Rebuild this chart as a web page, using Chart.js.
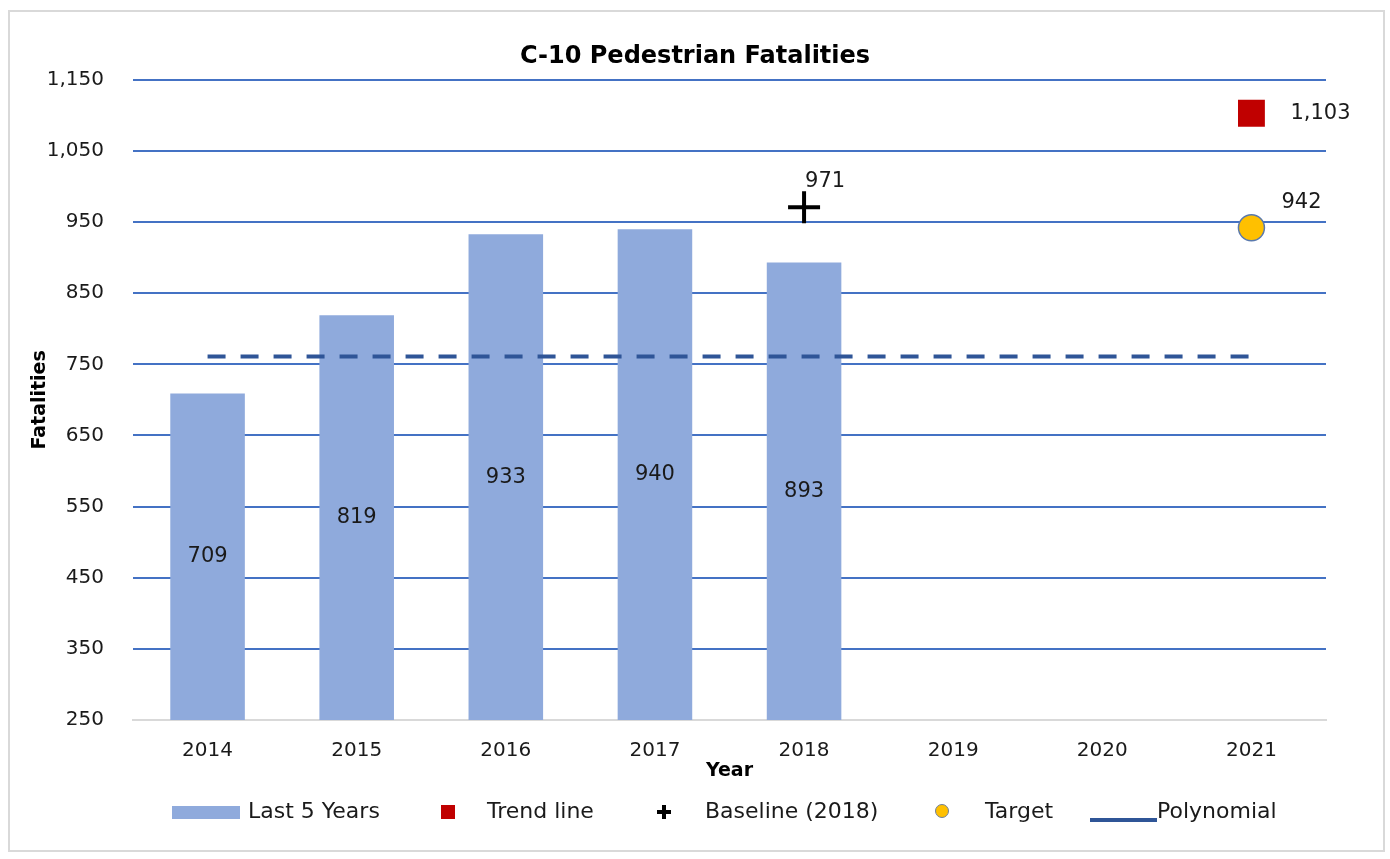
<!DOCTYPE html>
<html>
<head>
<meta charset="utf-8">
<script src="https://cdn.jsdelivr.net/npm/chart.js@4.4.1/dist/chart.umd.min.js"></script>
<style>
  html, body { margin: 0; padding: 0; background: #fff; }
  #wrap { position: relative; width: 1390px; height: 859px; font-family: "DejaVu Sans", sans-serif; }
  #frame { position: absolute; left: 8px; top: 10px; width: 1377px; height: 842px; border: 2px solid #d9d9d9; box-sizing: border-box; pointer-events: none; }
  .lg { position: absolute; font-size: 22px; color: #1a1a1a; line-height: 26px; top: 798px; white-space: nowrap; }
  .sw { position: absolute; }
</style>
</head>
<body>
<div id="wrap">
  <canvas id="myChart" width="1390" height="859"></canvas>
  <div id="frame"></div>
  <div class="sw" style="left:172px;top:806px;width:68px;height:13px;background:#8faadc"></div>
  <div class="lg" style="left:248px">Last 5 Years</div>
  <div class="sw" style="left:441px;top:805px;width:14px;height:14px;background:#c00000"></div>
  <div class="lg" style="left:487px">Trend line</div>
  <div class="sw" style="left:657px;top:810px;width:14px;height:4px;background:#000"></div>
  <div class="sw" style="left:662px;top:805px;width:4px;height:14px;background:#000"></div>
  <div class="lg" style="left:705px">Baseline (2018)</div>
  <div class="sw" style="left:935px;top:804px;width:14px;height:14px;border-radius:50%;background:#ffc000;border:1px solid #6f7f99;box-sizing:border-box"></div>
  <div class="lg" style="left:985px">Target</div>
  <div class="sw" style="left:1090px;top:818px;width:67px;height:4px;background:#2f5597"></div>
  <div class="lg" style="left:1157px">Polynomial</div>
</div>
<script>
const years = ["2014", "2015", "2016", "2017", "2018", "2019", "2020", "2021"];
const last5Years = [709, 819, 933, 940, 893, null, null, null];
const trendLine = [null, null, null, null, null, null, null, 1103];
const baseline = [null, null, null, null, 971, null, null, null];
const target = [null, null, null, null, null, null, null, 942];
const polynomial = [761, 761, 761, 761, 761, 761, 761, 761];

const yMin = 250;
const yMax = 1150;
const yStep = 100;

const font = "DejaVu Sans";

// -------- value labels --------
const valueLabels = {
  id: "valueLabels",
  afterDatasetsDraw(chart) {
    const ctx = chart.ctx;
    const bottom = chart.scales.y.bottom;
    ctx.save();
    ctx.font = "21px '" + font + "'";
    ctx.fillStyle = "#1a1a1a";
    ctx.textBaseline = "middle";
    chart.data.datasets.forEach((ds, i) => {
      const pos = ds.labelPos;
      if (!pos) return;
      const meta = chart.getDatasetMeta(i);
      meta.data.forEach((el, j) => {
        const v = ds.data[j];
        if (v == null) return;
        const txt = v.toLocaleString("en-US");
        if (pos === "center") {
          ctx.textAlign = "center";
          ctx.fillText(txt, el.x, (el.y + Math.min(el.base, bottom)) / 2);
        } else {
          ctx.textAlign = "left";
          ctx.fillText(txt, el.x + pos[0], el.y + pos[1]);
        }
      });
    });
    ctx.restore();
  },
};

const ctx = document.getElementById("myChart");

new Chart(ctx, {
  type: "bar",
  data: {
    labels: years,
    datasets: [
      {
        type: "line",
        label: "Trend line",
        data: trendLine,
        showLine: false,
        pointStyle: "rect",
        pointRadius: 19,
        pointBorderWidth: 0,
        pointBackgroundColor: "#c00000",
        borderColor: "#c00000",
        labelPos: [39, 0],
        order: 1,
      },
      {
        type: "line",
        label: "Baseline (2018)",
        data: baseline,
        showLine: false,
        pointStyle: "cross",
        pointRadius: 16,
        pointBorderWidth: 4,
        pointBorderColor: "#000",
        borderColor: "#000",
        labelPos: [1, -26],
        order: 1,
      },
      {
        type: "line",
        label: "Target",
        data: target,
        showLine: false,
        pointStyle: "circle",
        pointRadius: 13,
        pointBorderWidth: 1.5,
        pointBackgroundColor: "#ffc000",
        pointBorderColor: "#5a79ad",
        labelPos: [30, -25],
        order: 1,
      },
      {
        type: "line",
        label: "Polynomial",
        data: polynomial,
        borderColor: "#2f5597",
        borderWidth: 4,
        borderDash: [18, 15],
        pointRadius: 0,
        fill: false,
        order: 2,
      },
      {
        label: "Last 5 Years",
        data: last5Years,
        backgroundColor: "#8faadc",
        barPercentage: 0.5,
        categoryPercentage: 1,
        labelPos: "center",
        order: 3,
      },
    ],
  },
  plugins: [valueLabels],
  options: {
    responsive: false,
    animation: false,
    devicePixelRatio: 1,
    layout: { padding: 0 },
    plugins: {
      legend: { display: false },
      tooltip: { enabled: false },
      title: {
        display: true,
        text: "C-10 Pedestrian Fatalities",
        color: "#000",
        font: { family: font, size: 24, weight: "bold" },
        padding: { top: 42, bottom: 9 },
      },
    },
    scales: {
      x: {
        grid: { display: true, drawOnChartArea: false, drawTicks: false },
        border: { display: true, color: "#d9d9d9", width: 2 },
        ticks: {
          color: "#1a1a1a",
          font: { family: font, size: 20 },
          padding: 19,
          maxRotation: 0,
        },
        title: {
          display: true,
          text: "Year",
          color: "#000",
          font: { family: font, size: 19, weight: "bold" },
          padding: { top: 0, bottom: 77 },
        },
        afterFit(scale) {
          scale.height = 139;
        },
      },
      y: {
        min: yMin,
        max: yMax,
        ticks: {
          stepSize: yStep,
          color: "#1a1a1a",
          font: { family: font, size: 20 },
          padding: 29,
          callback: (v) => v.toLocaleString("en-US"),
        },
        grid: {
          drawTicks: false,
          lineWidth: 2,
          color: (c) => (c.tick && c.tick.value === yMin ? "rgba(0,0,0,0)" : "#4472c4"),
        },
        border: { display: false },
        title: {
          display: true,
          text: "Fatalities",
          color: "#000",
          font: { family: font, size: 19, weight: "bold" },
          padding: { top: 29, bottom: 0 },
        },
        afterFit(scale) {
          scale.width = 133;
        },
      },
      y2: {
        position: "right",
        display: true,
        grid: { display: false },
        border: { display: false },
        ticks: { display: false },
        afterFit(scale) {
          scale.width = 64;
        },
      },
    },
  },
});
</script>
</body>
</html>
